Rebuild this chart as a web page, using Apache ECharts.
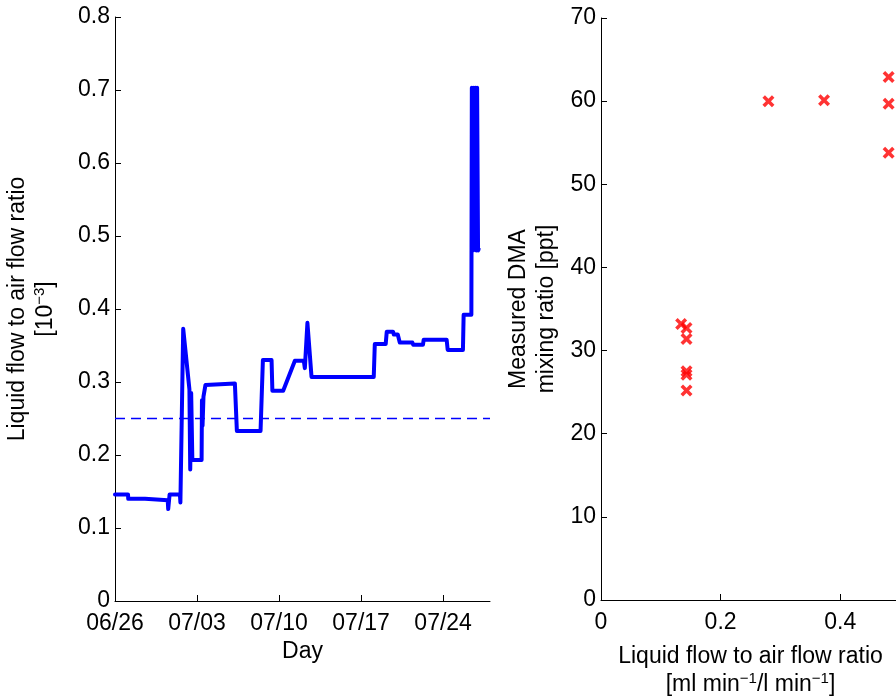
<!DOCTYPE html>
<html>
<head>
<meta charset="utf-8">
<script src="https://cdn.jsdelivr.net/npm/echarts@6/dist/echarts.min.js"></script>
<style>
html,body{margin:0;padding:0;background:#fff;}
#chart{width:896px;height:697px;}
</style>
</head>
<body>
<div id="chart"></div>
<script>
// ---- Data ----
// Left panel: day offset since 06/26 and liquid-to-air flow ratio [1e-3]
const dayTicks = [0, 7, 14, 21, 28];
const dayLabels = ['06/26', '07/03', '07/10', '07/17', '07/24'];
const ratioDays = [
  0, 1.11, 1.13, 2.56, 2.58, 4.50, 4.54, 4.62, 4.66, 5.54,
  5.58, 5.72, 5.82, 5.98, 6.35, 6.42, 6.50, 6.60, 7.39, 7.42,
  7.47, 7.55, 7.72, 10.23, 10.40, 12.42, 12.62, 13.36, 13.43, 14.35,
  15.35, 16.11, 16.20, 16.42, 16.52, 16.77, 22.08, 22.17, 23.10, 23.19,
  23.73, 23.79, 24.13, 24.30, 25.38, 25.45, 26.28, 26.34, 28.30, 28.39,
  29.69, 29.75, 30.41, 30.45, 30.55, 30.62, 30.70, 30.76, 30.84, 30.90,
  30.98, 31.03
];
const ratioValues = [
  0.146, 0.146, 0.140, 0.140, 0.138, 0.138, 0.126, 0.126, 0.146, 0.146,
  0.135, 0.135, 0.373, 0.372, 0.290, 0.180, 0.285, 0.193, 0.193, 0.275,
  0.240, 0.280, 0.296, 0.298, 0.233, 0.233, 0.330, 0.330, 0.288, 0.288,
  0.329, 0.329, 0.319, 0.381, 0.381, 0.307, 0.307, 0.352, 0.352, 0.369,
  0.369, 0.365, 0.365, 0.354, 0.354, 0.351, 0.351, 0.358, 0.358, 0.344,
  0.344, 0.392, 0.392, 0.703, 0.480, 0.703, 0.500, 0.703, 0.480, 0.703,
  0.480, 0.482
];
const thresholdValue = 0.25;
const dayMin = 0, dayMax = 32;

// Right panel: liquid/air flow ratio vs measured DMA mixing ratio
const flowTicks = [0, 0.2, 0.4];
const flowRatio = [0.134, 0.143, 0.143, 0.143, 0.143, 0.143, 0.280, 0.373, 0.481, 0.481, 0.481];
const dmaPpt    = [33.2, 32.7, 31.4, 27.5, 27.1, 25.2, 60.0, 60.1, 62.9, 59.7, 53.8];

// ---- Build series data ----
const lineData = ratioDays.map((d, i) => [d, ratioValues[i]]);
const thresholdData = [[dayMin, thresholdValue], [dayMax, thresholdValue]];
const scatterData = flowRatio.map((x, i) => [x, dmaPpt[i]]);

const FONT = '"Liberation Sans", Arial, Helvetica, sans-serif';
const labelStyle = { fontFamily: FONT, fontSize: 23, color: '#000' };
const axisLineStyle = { show: true, onZero: false, lineStyle: { color: '#000', width: 1 } };
const richName = {
  a: { fontFamily: FONT, fontSize: 23, color: '#000', lineHeight: 28 },
  s: { fontFamily: FONT, fontSize: 15, color: '#000', verticalAlign: 'top', lineHeight: 28 }
};
const xMark = 'path://M0,2.5 L2.5,0 L6,3.5 L9.5,0 L12,2.5 L8.5,6 L12,9.5 L9.5,12 L6,8.5 L2.5,12 L0,9.5 L3.5,6 Z';

const chart = echarts.init(document.getElementById('chart'), null, { renderer: 'canvas' });
chart.setOption({
  animation: false,
  backgroundColor: '#fff',
  grid: [
    { left: 115, top: 17, width: 375, height: 584, outerBoundsMode: 'none', containLabel: false },
    { left: 601, top: 18, width: 299, height: 582, outerBoundsMode: 'none', containLabel: false }
  ],
  xAxis: [
    {
      gridIndex: 0, type: 'value', min: dayMin, max: dayMax, interval: 7,
      axisLine: axisLineStyle,
      axisTick: { show: true, inside: true, length: 6, customValues: dayTicks, lineStyle: { color: '#000' } },
      axisLabel: { customValues: dayTicks, margin: 11, ...labelStyle,
        formatter: v => { const k = dayTicks.indexOf(Math.round(v)); return k >= 0 ? dayLabels[k] : ''; } },
      splitLine: { show: false },
      name: 'Day', nameLocation: 'middle', nameGap: 37,
      nameTextStyle: { ...labelStyle }
    },
    {
      gridIndex: 1, type: 'value', min: 0, max: 0.5, interval: 0.2,
      axisLine: axisLineStyle,
      axisTick: { show: true, inside: true, length: 6, customValues: flowTicks, lineStyle: { color: '#000' } },
      axisLabel: { customValues: flowTicks, margin: 11, ...labelStyle, formatter: v => String(+v.toFixed(1)) },
      splitLine: { show: false },
      name: '{a|Liquid flow to air flow ratio}\n{a|[ml min}{s|−1}{a|/l min}{s|−1}{a|]}',
      nameLocation: 'middle', nameGap: 43,
      nameTextStyle: { rich: richName }
    }
  ],
  yAxis: [
    {
      gridIndex: 0, type: 'value', min: 0, max: 0.8, interval: 0.1,
      axisLine: axisLineStyle,
      axisTick: { show: true, inside: true, length: 6, lineStyle: { color: '#000' } },
      axisLabel: { margin: 5, ...labelStyle, formatter: v => String(+v.toFixed(1)) },
      splitLine: { show: false },
      name: '{a|Liquid flow to air flow ratio}\n{a|[10}{s|−3}{a|]}',
      nameLocation: 'middle', nameGap: 55, nameRotate: 90,
      nameTextStyle: { rich: richName }
    },
    {
      gridIndex: 1, type: 'value', min: 0, max: 70, interval: 10,
      axisLine: axisLineStyle,
      axisTick: { show: true, inside: true, length: 6, lineStyle: { color: '#000' } },
      axisLabel: { margin: 5, ...labelStyle },
      splitLine: { show: false },
      name: '{a|Measured DMA}\n{a|mixing ratio [ppt]}',
      nameLocation: 'middle', nameGap: 40, nameRotate: 90,
      nameTextStyle: { rich: richName }
    }
  ],
  series: [
    {
      type: 'line', xAxisIndex: 0, yAxisIndex: 0, data: thresholdData,
      showSymbol: false, silent: true,
      lineStyle: { color: '#0000FF', width: 1.5, type: [10, 6] }
    },
    {
      type: 'line', xAxisIndex: 0, yAxisIndex: 0, data: lineData,
      showSymbol: false,
      lineStyle: { color: '#0000FF', width: 4, join: 'round', cap: 'round' }
    },
    {
      type: 'scatter', xAxisIndex: 1, yAxisIndex: 1, data: scatterData,
      symbol: xMark, symbolSize: 12,
      itemStyle: { color: '#FF0000' }
    }
  ]
});
</script>
</body>
</html>
